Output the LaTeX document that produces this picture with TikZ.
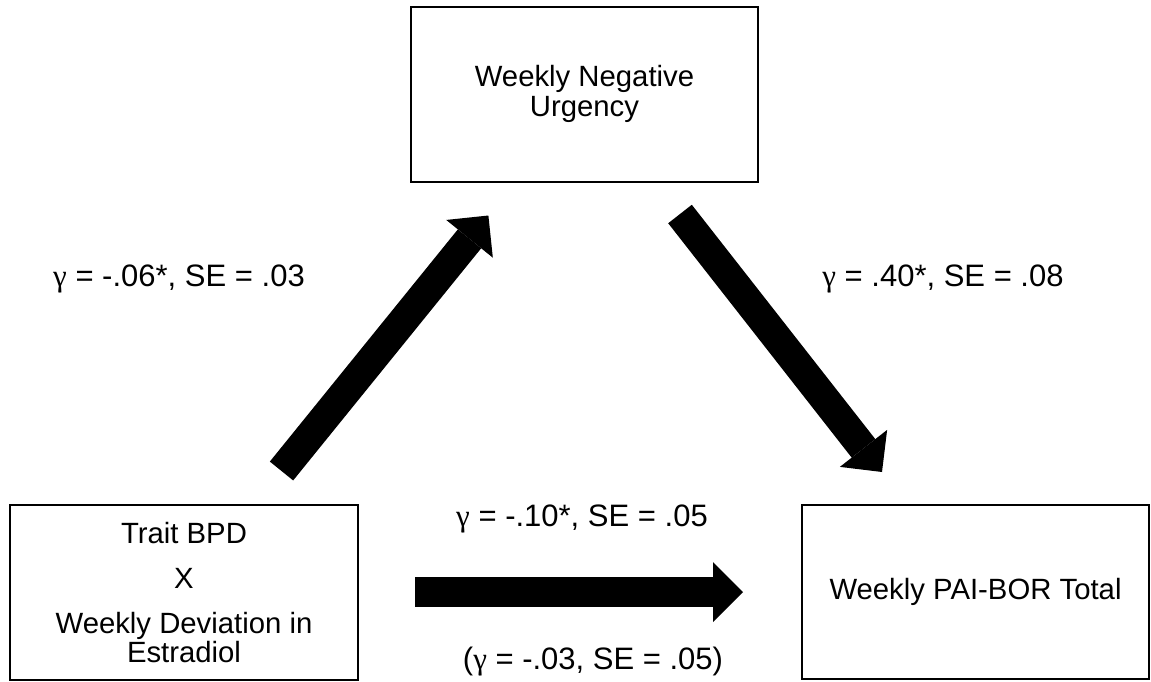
\documentclass[tikz,border=0pt]{standalone}
\usepackage{fontspec}
\setmainfont{Liberation Sans}
\newfontfamily\gfont{Liberation Serif}
\newcommand{\gam}{{\gfont γ}}
\usetikzlibrary{arrows.meta}
\begin{document}
\begin{tikzpicture}[x=1pt,y=-1pt,
  box/.style={draw=black, line width=2pt},
  lbl/.style={font=\fontsize{29.3}{30}\selectfont, inner sep=0pt},
  coef/.style={font=\fontsize{31}{32}\selectfont, inner sep=0pt},
  bigarrow/.style={line width=30pt, line cap=butt,
    -{Triangle[length=30pt,width=60pt,line width=0pt]}}]
\useasboundingbox[fill=white] (0,0) rectangle (1151,681);
% boxes
\draw[box] (411,7) rectangle (758,182);
\draw[box] (10,505) rectangle (358,680);
\draw[box] (802,505) rectangle (1149,679);
\node[lbl, align=center] (med) at (584.5,94) {Weekly Negative\\Urgency};
\node[lbl, align=center, font=\fontsize{29.3}{26}\selectfont] (pred) at (184,592.5)
  {Trait BPD\\[19pt]X\\[19pt]Weekly Deviation in\\Estradiol};
\node[lbl] (out) at (975.5,592) {Weekly PAI-BOR Total};
% arrow end points
\coordinate (a1s) at (281.5,471);
\coordinate (a1e) at (488.4,215.5);
\coordinate (a2s) at (680,214);
\coordinate (a2e) at (882,472);
\coordinate (a3s) at (415,592);
\coordinate (a3e) at (743,592);
\draw[bigarrow] (a1s) -- (a1e);
\draw[bigarrow] (a2s) -- (a2e);
\draw[bigarrow] (a3s) -- (a3e);
% labels
\node[coef] (la) at (179,279) {\gam{} = -.06*, SE = .03};
\node[coef] (lb) at (943,279) {\gam{} = .40*, SE = .08};
\node[coef] (lc) at (582,519) {\gam{} = -.10*, SE = .05};
\node[coef] (ld) at (593,662) {(\gam{} = -.03, SE = .05)};
\end{tikzpicture}
\end{document}
